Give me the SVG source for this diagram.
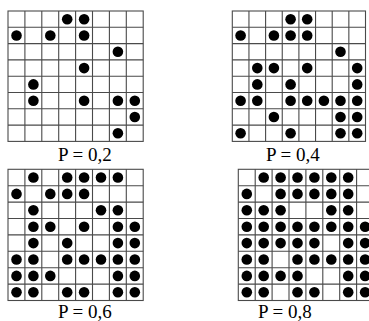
<svg xmlns="http://www.w3.org/2000/svg" xmlns:xlink="http://www.w3.org/1999/xlink" width="369" height="321" viewBox="0 0 369 321">
<style>
.g{fill:#fff;stroke:#4a4a4a;stroke-width:1.1}
.l{stroke:#4a4a4a;stroke-width:1.1;fill:none}
.d{fill:#000}
.t{font-family:"Liberation Serif","Times New Roman",serif;font-size:19px;fill:#000}
</style>
<rect width="369" height="321" fill="#fff"/>
<g id="grid1">
<rect class="g" x="8" y="11" width="135.2" height="130.4"/>
<path class="l" d="M24.9 11V141.4M41.8 11V141.4M58.7 11V141.4M75.6 11V141.4M92.5 11V141.4M109.4 11V141.4M126.3 11V141.4M8 27.3H143.2M8 43.6H143.2M8 59.9H143.2M8 76.2H143.2M8 92.5H143.2M8 108.8H143.2M8 125.1H143.2"/>
<g class="d">
<circle cx="67.2" cy="19.2" r="5.3"/><circle cx="84.1" cy="19.2" r="5.3"/>
<circle cx="16.5" cy="35.5" r="5.3"/><circle cx="50.3" cy="35.5" r="5.3"/><circle cx="84.1" cy="35.5" r="5.3"/>
<circle cx="117.9" cy="51.8" r="5.3"/>
<circle cx="84.1" cy="68.1" r="5.3"/>
<circle cx="33.4" cy="84.4" r="5.3"/>
<circle cx="33.4" cy="100.7" r="5.3"/><circle cx="84.1" cy="100.7" r="5.3"/><circle cx="117.9" cy="100.7" r="5.3"/><circle cx="134.8" cy="100.7" r="5.3"/>
<circle cx="134.8" cy="117" r="5.3"/>
<circle cx="117.9" cy="133.3" r="5.3"/>
</g>
<text class="t" x="58" y="161">P = 0,2</text>
</g>
<g id="grid2">
<rect class="g" x="232.3" y="11" width="133.2" height="130.4"/>
<path class="l" d="M248.95 11V141.4M265.6 11V141.4M282.25 11V141.4M298.9 11V141.4M315.55 11V141.4M332.2 11V141.4M348.85 11V141.4M232.3 27.3H365.5M232.3 43.6H365.5M232.3 59.9H365.5M232.3 76.2H365.5M232.3 92.5H365.5M232.3 108.8H365.5M232.3 125.1H365.5"/>
<g class="d">
<circle cx="290.6" cy="19.2" r="5.3"/><circle cx="307.2" cy="19.2" r="5.3"/>
<circle cx="240.6" cy="35.5" r="5.3"/><circle cx="273.9" cy="35.5" r="5.3"/><circle cx="290.6" cy="35.5" r="5.3"/><circle cx="307.2" cy="35.5" r="5.3"/>
<circle cx="340.5" cy="51.8" r="5.3"/>
<circle cx="257.3" cy="68.1" r="5.3"/><circle cx="273.9" cy="68.1" r="5.3"/><circle cx="307.2" cy="68.1" r="5.3"/><circle cx="357.2" cy="68.1" r="5.3"/>
<circle cx="257.3" cy="84.4" r="5.3"/><circle cx="290.6" cy="84.4" r="5.3"/><circle cx="357.2" cy="84.4" r="5.3"/>
<circle cx="240.6" cy="100.7" r="5.3"/><circle cx="257.3" cy="100.7" r="5.3"/><circle cx="290.6" cy="100.7" r="5.3"/><circle cx="307.2" cy="100.7" r="5.3"/><circle cx="323.9" cy="100.7" r="5.3"/><circle cx="340.5" cy="100.7" r="5.3"/><circle cx="357.2" cy="100.7" r="5.3"/>
<circle cx="273.9" cy="117" r="5.3"/><circle cx="340.5" cy="117" r="5.3"/><circle cx="357.2" cy="117" r="5.3"/>
<circle cx="240.6" cy="133.3" r="5.3"/><circle cx="290.6" cy="133.3" r="5.3"/><circle cx="340.5" cy="133.3" r="5.3"/><circle cx="357.2" cy="133.3" r="5.3"/>
</g>
<text class="t" x="266" y="161">P = 0,4</text>
</g>
<g id="grid3">
<rect class="g" x="8" y="169.3" width="135.2" height="131.2"/>
<path class="l" d="M24.9 169.3V300.5M41.8 169.3V300.5M58.7 169.3V300.5M75.6 169.3V300.5M92.5 169.3V300.5M109.4 169.3V300.5M126.3 169.3V300.5M8 185.7H143.2M8 202.1H143.2M8 218.5H143.2M8 234.9H143.2M8 251.3H143.2M8 267.7H143.2M8 284.1H143.2"/>
<g class="d">
<circle cx="33.4" cy="177.5" r="5.3"/><circle cx="67.2" cy="177.5" r="5.3"/><circle cx="84.1" cy="177.5" r="5.3"/><circle cx="101" cy="177.5" r="5.3"/><circle cx="117.9" cy="177.5" r="5.3"/>
<circle cx="16.5" cy="193.9" r="5.3"/><circle cx="50.3" cy="193.9" r="5.3"/><circle cx="67.2" cy="193.9" r="5.3"/><circle cx="84.1" cy="193.9" r="5.3"/>
<circle cx="33.4" cy="210.3" r="5.3"/><circle cx="101" cy="210.3" r="5.3"/><circle cx="117.9" cy="210.3" r="5.3"/>
<circle cx="33.4" cy="226.7" r="5.3"/><circle cx="50.3" cy="226.7" r="5.3"/><circle cx="84.1" cy="226.7" r="5.3"/><circle cx="117.9" cy="226.7" r="5.3"/><circle cx="134.8" cy="226.7" r="5.3"/>
<circle cx="33.4" cy="243.1" r="5.3"/><circle cx="67.2" cy="243.1" r="5.3"/><circle cx="117.9" cy="243.1" r="5.3"/><circle cx="134.8" cy="243.1" r="5.3"/>
<circle cx="16.5" cy="259.5" r="5.3"/><circle cx="33.4" cy="259.5" r="5.3"/><circle cx="67.2" cy="259.5" r="5.3"/><circle cx="84.1" cy="259.5" r="5.3"/><circle cx="101" cy="259.5" r="5.3"/><circle cx="117.9" cy="259.5" r="5.3"/><circle cx="134.8" cy="259.5" r="5.3"/>
<circle cx="16.5" cy="275.9" r="5.3"/><circle cx="33.4" cy="275.9" r="5.3"/><circle cx="50.3" cy="275.9" r="5.3"/><circle cx="117.9" cy="275.9" r="5.3"/><circle cx="134.8" cy="275.9" r="5.3"/>
<circle cx="16.5" cy="292.3" r="5.3"/><circle cx="33.4" cy="292.3" r="5.3"/><circle cx="67.2" cy="292.3" r="5.3"/><circle cx="84.1" cy="292.3" r="5.3"/><circle cx="117.9" cy="292.3" r="5.3"/><circle cx="134.8" cy="292.3" r="5.3"/>
</g>
<text class="t" x="58" y="318">P = 0,6</text>
</g>
<g id="grid4">
<rect class="g" x="238.3" y="169.3" width="135.2" height="131.2"/>
<path class="l" d="M255.2 169.3V300.5M272.1 169.3V300.5M289 169.3V300.5M305.9 169.3V300.5M322.8 169.3V300.5M339.7 169.3V300.5M356.6 169.3V300.5M238.3 185.7H373.5M238.3 202.1H373.5M238.3 218.5H373.5M238.3 234.9H373.5M238.3 251.3H373.5M238.3 267.7H373.5M238.3 284.1H373.5"/>
<g class="d">
<circle cx="263.7" cy="177.5" r="5.3"/><circle cx="280.6" cy="177.5" r="5.3"/><circle cx="297.5" cy="177.5" r="5.3"/><circle cx="314.4" cy="177.5" r="5.3"/><circle cx="331.3" cy="177.5" r="5.3"/><circle cx="348.2" cy="177.5" r="5.3"/>
<circle cx="246.8" cy="193.9" r="5.3"/><circle cx="280.6" cy="193.9" r="5.3"/><circle cx="297.5" cy="193.9" r="5.3"/><circle cx="314.4" cy="193.9" r="5.3"/><circle cx="331.3" cy="193.9" r="5.3"/><circle cx="348.2" cy="193.9" r="5.3"/>
<circle cx="246.8" cy="210.3" r="5.3"/><circle cx="263.7" cy="210.3" r="5.3"/><circle cx="280.6" cy="210.3" r="5.3"/><circle cx="331.3" cy="210.3" r="5.3"/><circle cx="348.2" cy="210.3" r="5.3"/>
<circle cx="246.8" cy="226.7" r="5.3"/><circle cx="263.7" cy="226.7" r="5.3"/><circle cx="280.6" cy="226.7" r="5.3"/><circle cx="297.5" cy="226.7" r="5.3"/><circle cx="314.4" cy="226.7" r="5.3"/><circle cx="331.3" cy="226.7" r="5.3"/><circle cx="348.2" cy="226.7" r="5.3"/><circle cx="365.1" cy="226.7" r="5.3"/>
<circle cx="246.8" cy="243.1" r="5.3"/><circle cx="263.7" cy="243.1" r="5.3"/><circle cx="280.6" cy="243.1" r="5.3"/><circle cx="297.5" cy="243.1" r="5.3"/><circle cx="314.4" cy="243.1" r="5.3"/><circle cx="348.2" cy="243.1" r="5.3"/><circle cx="365.1" cy="243.1" r="5.3"/>
<circle cx="246.8" cy="259.5" r="5.3"/><circle cx="263.7" cy="259.5" r="5.3"/><circle cx="297.5" cy="259.5" r="5.3"/><circle cx="314.4" cy="259.5" r="5.3"/><circle cx="331.3" cy="259.5" r="5.3"/><circle cx="348.2" cy="259.5" r="5.3"/><circle cx="365.1" cy="259.5" r="5.3"/>
<circle cx="246.8" cy="275.9" r="5.3"/><circle cx="263.7" cy="275.9" r="5.3"/><circle cx="280.6" cy="275.9" r="5.3"/><circle cx="297.5" cy="275.9" r="5.3"/><circle cx="348.2" cy="275.9" r="5.3"/><circle cx="365.1" cy="275.9" r="5.3"/>
<circle cx="246.8" cy="292.3" r="5.3"/><circle cx="263.7" cy="292.3" r="5.3"/><circle cx="297.5" cy="292.3" r="5.3"/><circle cx="314.4" cy="292.3" r="5.3"/><circle cx="348.2" cy="292.3" r="5.3"/><circle cx="365.1" cy="292.3" r="5.3"/>
</g>
<text class="t" x="258" y="318">P = 0,8</text>
</g>
</svg>
